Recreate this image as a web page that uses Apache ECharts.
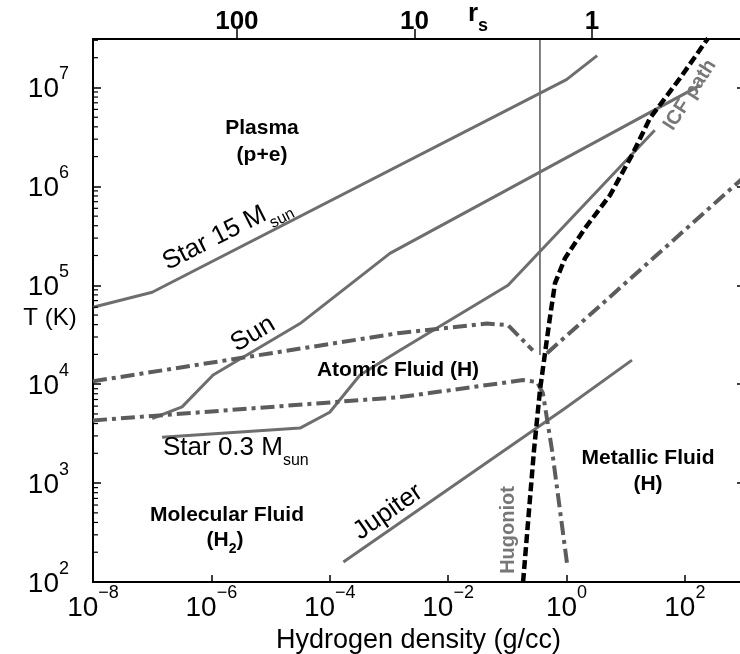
<!DOCTYPE html>
<html><head><meta charset="utf-8">
<script src="https://cdn.jsdelivr.net/npm/echarts@6/dist/echarts.min.js"></script>
<style>html,body{margin:0;padding:0;background:#fff}#c{width:740px;height:654px}</style>
</head><body><div id="c"></div>
<script>
// ---- data (density in g/cc, temperature in K) ----
const star15Density = [1e-8, 1e-7, 1.0, 3.3];
const star15Temp    = [6.0e4, 8.5e4, 1.2e7, 2.1e7];

const sunDensity = [1e-7, 3.2e-7, 1.07e-6, 3.15e-5, 1.04e-3, 180];
const sunTemp    = [4.5e3, 5.9e3, 1.24e4, 4.1e4, 2.1e5, 1.05e7];

const star03Density = [1.47e-7, 3.15e-5, 1e-4, 3.25e-4, 1.54e-3, 0.103, 31];
const star03Temp    = [2.9e3, 3.6e3, 5.2e3, 1.24e4, 2.2e4, 1.0e5, 3.7e6];

const jupiterDensity = [1.7e-4, 0.95, 12.8];
const jupiterTemp    = [159, 5.7e3, 1.75e4];

const dissocUpperDensity = [1e-8, 1.54e-3, 0.0455, 0.103, 0.27];
const dissocUpperTemp    = [1.07e4, 3.3e4, 4.1e4, 3.95e4, 2.2e4];

const ionizDensity = [0.47, 1000];
const ionizTemp    = [2.06e4, 1.24e6];

const dissocLowerDensity = [1e-8, 1.54e-3, 0.185, 0.318, 0.40, 0.57, 1.02];
const dissocLowerTemp    = [4.3e3, 7.4e3, 1.1e4, 1.05e4, 8.1e3, 2.16e3, 156];

const hugoniotIcfDensity = [0.185, 0.283, 0.357, 0.434, 0.527, 0.641, 0.946, 2.06, 5.45, 12.8, 25.8, 83, 247];
const hugoniotIcfTemp    = [100, 2.16e3, 8.7e3, 2.06e4, 4.76e4, 1.05e5, 1.88e5, 3.78e5, 8.15e5, 2.07e6, 4.89e6, 1.24e7, 3.15e7];

const thinLineDensity = [0.357, 0.357];
const thinLineTemp    = [3.1e7, 1.97e4];

const xTickExps = [-8, -6, -4, -2, 0, 2];
const yTickExps = [2, 3, 4, 5, 6, 7];
const rsTicks = [100, 10, 1];

// ---- helpers ----
const L = Math.log10;
const pts = (d, t) => d.map((v, i) => [L(v), L(t[i])]);
// r_s -> density (g/cc): rho = m_H / (4/3 pi (rs a0)^3)
const rsToLogRho = rs => L(1.6735e-24 / (4 / 3 * Math.PI * Math.pow(rs * 0.529177e-8, 3)));
const rsPos = rsTicks.map(rsToLogRho);
const yMinor = [];
yTickExps.forEach(e => { for (let m = 2; m <= 9; m++) { const v = e + L(m); if (v < 7.49) yMinor.push(v); } });

const FONT = '"Liberation Sans", Arial, Helvetica, sans-serif';
const expFmt = v => {
  if (Math.abs(v - Math.round(v)) > 1e-6) return '';
  const n = Math.round(v);
  return '{b|10}{s|' + (n < 0 ? '\u2212' + (-n) : n) + '}';
};
const expRich = {
  b: { fontSize: 28, fontFamily: FONT, color: '#000', padding: [10, 0, 0, 0] },
  s: { fontSize: 18, fontFamily: FONT, color: '#000', verticalAlign: 'top', lineHeight: 18 }
};

const GRAY = '#6e6e6e';
const DGRAY = '#5c5c5c';
function line(name, d, t, color, width, type) {
  return {
    name, type: 'line', xAxisIndex: 0, yAxisIndex: 0, data: pts(d, t),
    symbol: 'none', silent: true, animation: false, clip: true,
    lineStyle: { color, width, type: type || 'solid', cap: 'butt', join: 'round' }
  };
}

const chart = echarts.init(document.getElementById('c'), null, { renderer: 'canvas' });

function txt(text, x, y, opt) {
  opt = opt || {};
  return {
    type: 'text', x, y, rotation: (opt.rot || 0) * Math.PI / 180, silent: true, z: 100,
    style: {
      text, fill: opt.color || '#000',
      font: (opt.bold ? 'bold ' : '') + (opt.size || 22) + 'px ' + FONT,
      textAlign: opt.align || 'center', textVerticalAlign: 'middle',
      align: opt.align || 'center', verticalAlign: 'middle',
      rich: opt.rich
    }
  };
}
const subRich = size => ({
  m: { fontSize: size, fontFamily: FONT, color: '#000', padding: [0, 0, 8, 0] },
  u: { fontSize: Math.round(size * 0.62), fontFamily: FONT, color: '#000', verticalAlign: 'bottom', lineHeight: 14 }
});

chart.setOption({
  animation: false,
  backgroundColor: '#fff',
  grid: { left: 93, top: 39, width: 651, height: 543, containLabel: false, outerBoundsMode: 'none' },
  xAxis: [
    {
      type: 'value', min: -8, max: 3, interval: 2, position: 'bottom',
      axisLine: { show: true, onZero: false, lineStyle: { color: '#000', width: 2 } },
      axisTick: { show: true, inside: true, length: 7, customValues: xTickExps, lineStyle: { color: '#000', width: 1.5 } },
      axisLabel: { customValues: xTickExps, formatter: expFmt, rich: expRich, margin: 2 },
      splitLine: { show: false },
      name: 'Hydrogen density (g/cc)', nameLocation: 'middle', nameGap: 40,
      nameTextStyle: { fontSize: 27, color: '#000', fontFamily: FONT }
    },
    {
      type: 'value', min: -8, max: 3, position: 'top',
      axisLine: { show: true, onZero: false, lineStyle: { color: '#000', width: 2 } },
      axisTick: { show: true, inside: false, length: 10, customValues: rsPos, lineStyle: { color: '#000', width: 1.5 } },
      axisLabel: {
        customValues: rsPos, margin: 4, fontSize: 26, fontWeight: 'bold', color: '#000', fontFamily: FONT,
        formatter: v => { let bi = 0; rsPos.forEach((p, i) => { if (Math.abs(p - v) < Math.abs(rsPos[bi] - v)) bi = i; }); return String(rsTicks[bi]); }
      },
      splitLine: { show: false }
    }
  ],
  yAxis: [
    {
      type: 'value', min: 2, max: 7.49, interval: 1, position: 'left',
      axisLine: { show: true, onZero: false, lineStyle: { color: '#000', width: 2 } },
      axisTick: { show: true, inside: true, length: 8, customValues: yTickExps, lineStyle: { color: '#000', width: 1.5 } },
      axisLabel: { customValues: yTickExps, formatter: expFmt, rich: expRich, margin: 24, padding: [0, 0, 6, 0] },
      splitLine: { show: false }
    },
    {
      type: 'value', min: 2, max: 7.49, interval: 1, position: 'right',
      axisLine: { show: true, onZero: false, lineStyle: { color: '#000', width: 2 } },
      axisTick: { show: true, inside: true, length: 7, customValues: yTickExps, lineStyle: { color: '#000', width: 1.5 } },
      axisLabel: { show: false },
      splitLine: { show: false }
    }
  ],
  series: [
    {
      name: 'minor ticks', type: 'custom', xAxisIndex: 0, yAxisIndex: 0, silent: true, animation: false, clip: false, z: 10,
      data: yMinor.map(v => [-8, v]),
      renderItem: (params, api) => {
        const p = api.coord([api.value(0), api.value(1)]);
        return { type: 'line', shape: { x1: p[0], y1: p[1], x2: p[0] + 5, y2: p[1] }, style: { stroke: '#000', lineWidth: 1.2 } };
      }
    },
    line('thin', thinLineDensity, thinLineTemp, '#000', 1),
    line('Star 15 Msun', star15Density, star15Temp, GRAY, 3),
    line('Sun', sunDensity, sunTemp, GRAY, 3),
    line('Star 0.3 Msun', star03Density, star03Temp, GRAY, 3),
    line('Jupiter', jupiterDensity, jupiterTemp, GRAY, 3),
    line('dissociation upper', dissocUpperDensity, dissocUpperTemp, DGRAY, 4, [14, 5, 4, 5]),
    line('ionization', ionizDensity, ionizTemp, DGRAY, 4, [14, 5, 4, 5]),
    line('dissociation lower', dissocLowerDensity, dissocLowerTemp, DGRAY, 4, [14, 5, 4, 5]),
    line('Hugoniot / ICF path', hugoniotIcfDensity, hugoniotIcfTemp, '#000', 4.5, [9, 4])
  ],
  graphic: [
    txt('{m|r}{u|s}', 478, 18, { rich: { m: { fontSize: 26, fontWeight: 'bold', fontFamily: FONT, color: '#000', padding: [0, 0, 8, 0] }, u: { fontSize: 18, fontWeight: 'bold', fontFamily: FONT, color: '#000', verticalAlign: 'bottom', lineHeight: 14 } } }),
    txt('T (K)', 50, 318, { size: 24 }),
    txt('Plasma', 262, 128, { bold: true, size: 21 }),
    txt('(p+e)', 262, 155, { bold: true, size: 21 }),
    txt('Atomic Fluid (H)', 398, 370, { bold: true, size: 21 }),
    txt('Metallic Fluid', 648, 458, { bold: true, size: 21 }),
    txt('(H)', 648, 484, { bold: true, size: 21 }),
    txt('Molecular Fluid', 227, 515, { bold: true, size: 21 }),
    txt('{a|(H}{u|2}{a|)}', 225, 543, { rich: { a: { fontSize: 21, fontWeight: 'bold', fontFamily: FONT, color: '#000', padding: [0, 0, 6, 0] }, u: { fontSize: 14, fontWeight: 'bold', fontFamily: FONT, color: '#000', verticalAlign: 'bottom', lineHeight: 12 } } }),
    txt('{m|Star 15 M}{u|sun}', 228, 236, { rot: 27, rich: subRich(26) }),
    txt('Sun', 253, 334, { size: 26, rot: 31 }),
    txt('{m|Star 0.3 M}{u|sun}', 163, 452, { align: 'left', rich: subRich(26) }),
    txt('Jupiter', 388, 512, { size: 26, rot: 35 }),
    txt('Hugoniot', 508, 530, { bold: true, size: 20, rot: 90, color: '#777' }),
    txt('ICF path', 690, 95, { bold: true, size: 20, rot: 57, color: '#777' })
  ]
});
</script></body></html>
